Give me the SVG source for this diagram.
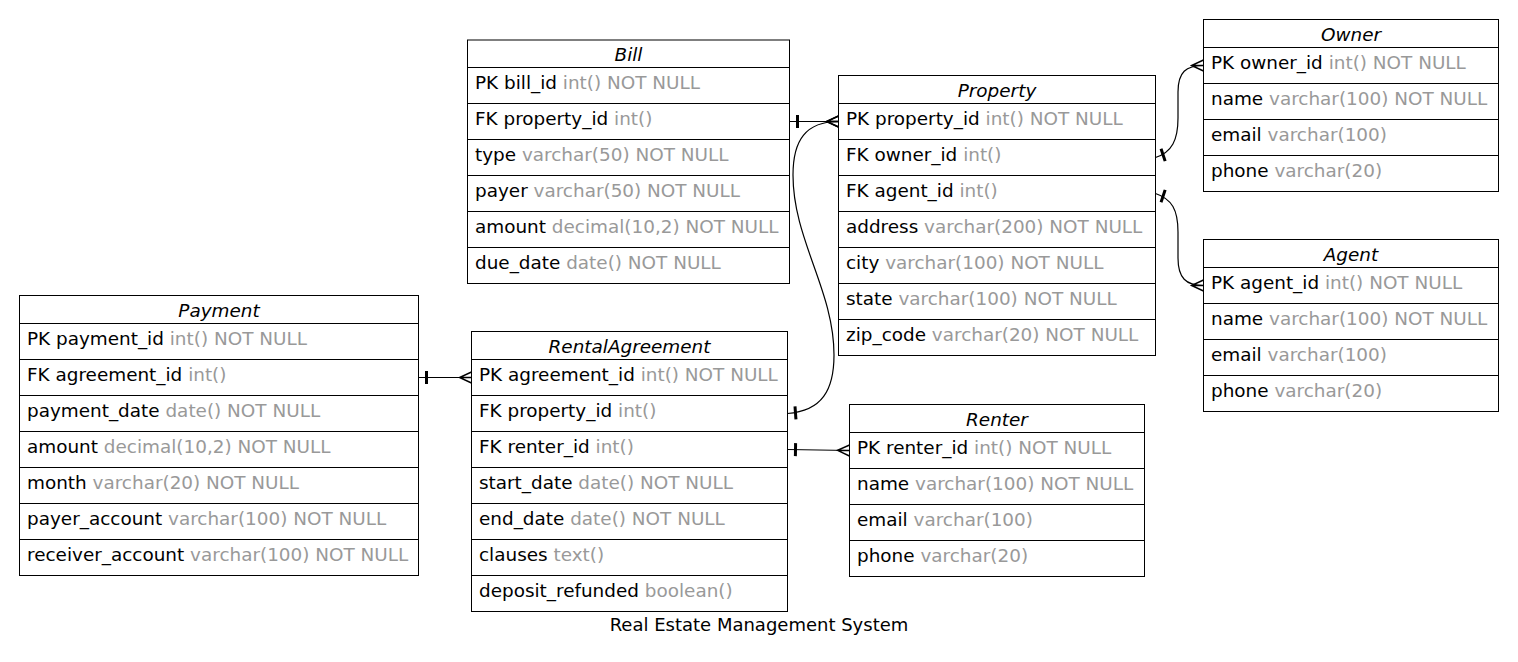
<svg xmlns="http://www.w3.org/2000/svg" width="1518" height="662" viewBox="0 0 1518 662">
<style>
text{font-family:"DejaVu Sans","Liberation Sans",sans-serif;font-size:18.4px;fill:#000}
.h{font-style:italic;text-anchor:middle}
.t{fill:#999}
.title{font-size:18px;text-anchor:middle}
.box{fill:#fff;stroke:#000;stroke-width:1}
.sep{stroke:#000;stroke-width:1}
.edge{fill:none;stroke:#000;stroke-width:1.2}
</style>
<defs>
<marker id="crow" markerUnits="userSpaceOnUse" viewBox="0 0 12 12" markerWidth="12" markerHeight="12" refX="12" refY="6" orient="auto" overflow="visible">
<path d="M12,0.5 L0,6 L12,11.5 M0,6 L12,6" fill="none" stroke="#000" stroke-width="1.4"/>
</marker>
<marker id="tee" markerUnits="userSpaceOnUse" viewBox="0 -8 12 16" markerWidth="12" markerHeight="16" refX="0" refY="0" orient="auto" overflow="visible">
<path d="M8,-6.5 L8,6.5" stroke="#000" stroke-width="3"/>
</marker>
</defs>
<rect width="1518" height="662" fill="#fff"/>

<g id="connectors">
<path class="edge" d="M789.5,121.5 L838.5,121.5" marker-start="url(#tee)" marker-end="url(#crow)"/>
<path class="edge" d="M787.5,413.5 C822,411 834,390 834,355 C834,290 793,240 793,175 C793,140 806,121.5 838.5,121.5" marker-start="url(#tee)" marker-end="url(#crow)"/>
<path class="edge" d="M1155.5,157.5 C1172,152 1178,140 1178,118 L1178,92 C1178,72 1186,65.5 1203.5,65.5" marker-start="url(#tee)" marker-end="url(#crow)"/>
<path class="edge" d="M1155.5,193.5 C1172,199 1178,210 1178,232 L1178,258 C1178,278 1186,285.5 1203.5,285.5" marker-start="url(#tee)" marker-end="url(#crow)"/>
<path class="edge" d="M418.5,377.5 L471.5,377.5" marker-start="url(#tee)" marker-end="url(#crow)"/>
<path class="edge" d="M787.5,449.5 L849.5,450.5" marker-start="url(#tee)" marker-end="url(#crow)"/>
</g>

<g id="Bill">
<rect class="box" x="467.5" y="40" width="322" height="243.5"/>
<path class="sep" d="M467.5,67.5H789.5M467.5,103.5H789.5M467.5,139.5H789.5M467.5,175.5H789.5M467.5,211.5H789.5M467.5,247.5H789.5"/>
<text class="h" x="628.5" y="61">Bill</text>
<text x="475" y="89">PK bill_id<tspan class="t"> int() NOT NULL</tspan></text>
<text x="475" y="125">FK property_id<tspan class="t"> int()</tspan></text>
<text x="475" y="161">type<tspan class="t"> varchar(50) NOT NULL</tspan></text>
<text x="475" y="197">payer<tspan class="t"> varchar(50) NOT NULL</tspan></text>
<text x="475" y="233">amount<tspan class="t"> decimal(10,2) NOT NULL</tspan></text>
<text x="475" y="269">due_date<tspan class="t"> date() NOT NULL</tspan></text>
</g>

<g id="Property">
<rect class="box" x="838.5" y="75.5" width="317" height="280"/>
<path class="sep" d="M838.5,103.5H1155.5M838.5,139.5H1155.5M838.5,175.5H1155.5M838.5,211.5H1155.5M838.5,247.5H1155.5M838.5,283.5H1155.5M838.5,319.5H1155.5"/>
<text class="h" x="997" y="96.5">Property</text>
<text x="846" y="125">PK property_id<tspan class="t"> int() NOT NULL</tspan></text>
<text x="846" y="161">FK owner_id<tspan class="t"> int()</tspan></text>
<text x="846" y="197">FK agent_id<tspan class="t"> int()</tspan></text>
<text x="846" y="233">address<tspan class="t"> varchar(200) NOT NULL</tspan></text>
<text x="846" y="269">city<tspan class="t"> varchar(100) NOT NULL</tspan></text>
<text x="846" y="305">state<tspan class="t"> varchar(100) NOT NULL</tspan></text>
<text x="846" y="341">zip_code<tspan class="t"> varchar(20) NOT NULL</tspan></text>
</g>

<g id="Owner">
<rect class="box" x="1203.5" y="19.5" width="295" height="172"/>
<path class="sep" d="M1203.5,47.5H1498.5M1203.5,83.5H1498.5M1203.5,119.5H1498.5M1203.5,155.5H1498.5"/>
<text class="h" x="1351" y="40.5">Owner</text>
<text x="1211" y="69">PK owner_id<tspan class="t"> int() NOT NULL</tspan></text>
<text x="1211" y="105">name<tspan class="t"> varchar(100) NOT NULL</tspan></text>
<text x="1211" y="141">email<tspan class="t"> varchar(100)</tspan></text>
<text x="1211" y="177">phone<tspan class="t"> varchar(20)</tspan></text>
</g>

<g id="Agent">
<rect class="box" x="1203.5" y="239.5" width="295" height="172"/>
<path class="sep" d="M1203.5,267.5H1498.5M1203.5,303.5H1498.5M1203.5,339.5H1498.5M1203.5,375.5H1498.5"/>
<text class="h" x="1351" y="260.5">Agent</text>
<text x="1211" y="289">PK agent_id<tspan class="t"> int() NOT NULL</tspan></text>
<text x="1211" y="325">name<tspan class="t"> varchar(100) NOT NULL</tspan></text>
<text x="1211" y="361">email<tspan class="t"> varchar(100)</tspan></text>
<text x="1211" y="397">phone<tspan class="t"> varchar(20)</tspan></text>
</g>

<g id="Payment">
<rect class="box" x="19.5" y="295.5" width="399" height="280"/>
<path class="sep" d="M19.5,323.5H418.5M19.5,359.5H418.5M19.5,395.5H418.5M19.5,431.5H418.5M19.5,467.5H418.5M19.5,503.5H418.5M19.5,539.5H418.5"/>
<text class="h" x="219" y="316.5">Payment</text>
<text x="27" y="345">PK payment_id<tspan class="t"> int() NOT NULL</tspan></text>
<text x="27" y="381">FK agreement_id<tspan class="t"> int()</tspan></text>
<text x="27" y="417">payment_date<tspan class="t"> date() NOT NULL</tspan></text>
<text x="27" y="453">amount<tspan class="t"> decimal(10,2) NOT NULL</tspan></text>
<text x="27" y="489">month<tspan class="t"> varchar(20) NOT NULL</tspan></text>
<text x="27" y="525">payer_account<tspan class="t"> varchar(100) NOT NULL</tspan></text>
<text x="27" y="561">receiver_account<tspan class="t"> varchar(100) NOT NULL</tspan></text>
</g>

<g id="RentalAgreement">
<rect class="box" x="471.5" y="331.5" width="316" height="280"/>
<path class="sep" d="M471.5,359.5H787.5M471.5,395.5H787.5M471.5,431.5H787.5M471.5,467.5H787.5M471.5,503.5H787.5M471.5,539.5H787.5M471.5,575.5H787.5"/>
<text class="h" x="629.5" y="352.5">RentalAgreement</text>
<text x="479" y="381">PK agreement_id<tspan class="t"> int() NOT NULL</tspan></text>
<text x="479" y="417">FK property_id<tspan class="t"> int()</tspan></text>
<text x="479" y="453">FK renter_id<tspan class="t"> int()</tspan></text>
<text x="479" y="489">start_date<tspan class="t"> date() NOT NULL</tspan></text>
<text x="479" y="525">end_date<tspan class="t"> date() NOT NULL</tspan></text>
<text x="479" y="561">clauses<tspan class="t"> text()</tspan></text>
<text x="479" y="597">deposit_refunded<tspan class="t"> boolean()</tspan></text>
</g>

<g id="Renter">
<rect class="box" x="849.5" y="404.5" width="295" height="172"/>
<path class="sep" d="M849.5,432.5H1144.5M849.5,468.5H1144.5M849.5,504.5H1144.5M849.5,540.5H1144.5"/>
<text class="h" x="997" y="425.5">Renter</text>
<text x="857" y="454">PK renter_id<tspan class="t"> int() NOT NULL</tspan></text>
<text x="857" y="490">name<tspan class="t"> varchar(100) NOT NULL</tspan></text>
<text x="857" y="526">email<tspan class="t"> varchar(100)</tspan></text>
<text x="857" y="562">phone<tspan class="t"> varchar(20)</tspan></text>
</g>

<text class="title" x="759" y="631">Real Estate Management System</text>
</svg>
